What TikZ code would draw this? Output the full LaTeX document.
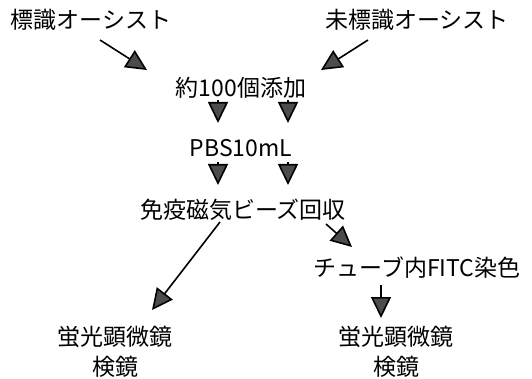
\documentclass[tikz,border=0pt]{standalone}
\usepackage{fontspec}
\setmainfont{Noto Sans CJK JP}
\usetikzlibrary{arrows.meta,calc}
\tikzset{
  lbl/.style={inner sep=0pt, font=\fontsize{23}{30}\selectfont, align=center},
  flow/.style={line width=1.6pt, -{Triangle[length=21pt,width=20pt,fill=black!70]}},
}
\begin{document}
\begin{tikzpicture}[x=1pt,y=-1pt]
\useasboundingbox (0,0) rectangle (532,379);
\node[lbl] (lab1) at (91,20) {標識オーシスト};
\node[lbl] (lab2) at (417,20) {未標識オーシスト};
\node[lbl] (add) at (241,88) {約100個添加};
\node[lbl] (pbs) at (241,148) {PBS10mL};
\node[lbl] (beads) at (243,210) {免疫磁気ビーズ回収};
\node[lbl] (fitc) at (417,268) {チューブ内FITC染色};
\node[lbl] (micL) at (115,352) {蛍光顕微鏡\\検鏡};
\node[lbl] (micR) at (396,352) {蛍光顕微鏡\\検鏡};
\draw[flow] ($(lab1)+(9,20)$) -- ($(add)+(-94,-18)$);
\draw[flow] ($(lab2)+(-49,20)$) -- ($(add)+(80,-18)$);
\draw[flow] ($(add)+(-23,12)$) -- ($(pbs)+(-23,-25)$);
\draw[flow] ($(add)+(47,12)$) -- ($(pbs)+(47,-25)$);
\draw[flow] ($(pbs)+(-23,14)$) -- ($(beads)+(-25,-25)$);
\draw[flow] ($(pbs)+(47,14)$) -- ($(beads)+(45,-25)$);
\draw[flow] ($(beads)+(-23,12)$) -- ($(micL)+(37,-42)$);
\draw[flow] ($(beads)+(83,14)$) -- ($(fitc)+(-65,-21)$);
\draw[flow] ($(fitc)+(-36,17)$) -- ($(micR)+(-15,-34)$);
\end{tikzpicture}
\end{document}
